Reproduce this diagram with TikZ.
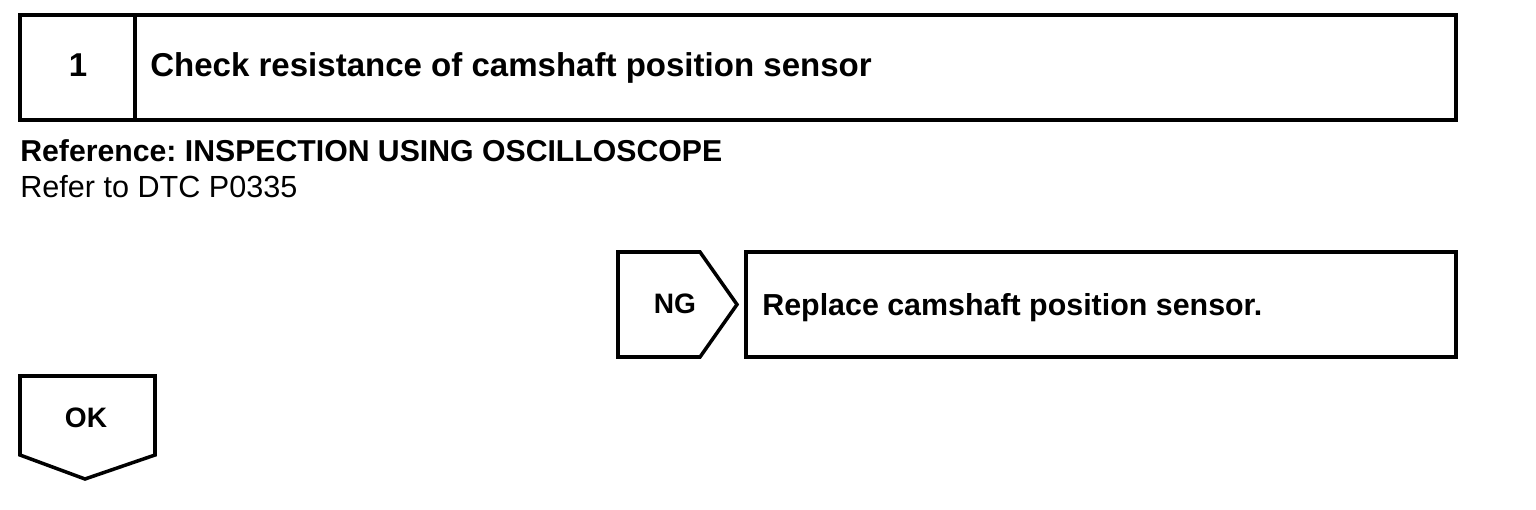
\documentclass[tikz,border=0pt]{standalone}
\usepackage{fontspec}
\setmainfont{Liberation Sans}
\usepackage{tikz}
\usetikzlibrary{positioning}
\frenchspacing
\tikzset{
  frame/.style={draw=black, line width=2pt, line join=miter},
  headtxt/.style={font=\fontsize{18.8}{21}\selectfont\bfseries, inner sep=0pt},
  repltxt/.style={font=\fontsize{17.3}{20}\selectfont\bfseries, inner sep=0pt},
  reftxt/.style={font=\fontsize{17.2}{20}\selectfont\bfseries, inner sep=0pt},
  plaintxt/.style={font=\fontsize{17.4}{20}\selectfont, inner sep=0pt},
  tagtxt/.style={font=\fontsize{16}{18}\selectfont\bfseries, inner sep=0pt},
}

\begin{document}
\begin{tikzpicture}[x=0.02cm, y=-0.02cm]
  \useasboundingbox (0,0) rectangle (1536,510);
  % step header
  \draw[frame] (20,15) rectangle (1456,120);
  \draw[frame] (135,15) -- (135,120);
  \node[headtxt, anchor=base] (num) at (78,77) {1};
  \node[headtxt, anchor=base west] (title) at (150,77) {Check resistance of camshaft position sensor};

  % reference lines
  \node[reftxt, anchor=base west] (ref) at (20,162) {Reference: INSPECTION USING OSCILLOSCOPE};
  \node[plaintxt, anchor=base west] (dtc) at (20,197) {Refer to DTC P0335};

  % NG branch
  \draw[frame] (618,252) -- (700,252) -- (737,304.5) -- (700,357) -- (618,357) -- cycle;
  \node[tagtxt, anchor=base] (ng) at (675,313) {NG};
  \draw[frame] (746,252) rectangle (1456,357);
  \node[repltxt, anchor=base west] (repl) at (762,315) {Replace camshaft position sensor.};

  % OK branch
  \draw[frame] (20,376) -- (155,376) -- (155,455) -- (85,479) -- (20,455) -- cycle;
  \node[tagtxt, anchor=base] (ok) at (86,427) {OK};
\end{tikzpicture}
\end{document}
